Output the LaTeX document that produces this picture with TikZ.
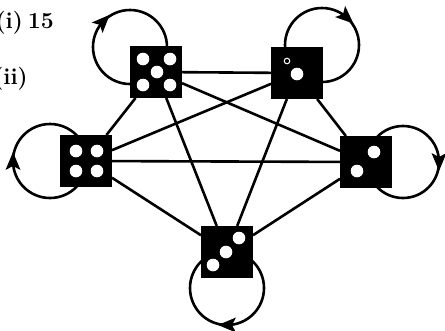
\documentclass[tikz,border=0pt]{standalone}
\usepackage{fontspec}
\usetikzlibrary{backgrounds,calc}
\begin{document}
\begin{tikzpicture}[x=1pt,y=-1pt,
  die/.style={draw=none,fill=black,minimum size=52pt,inner sep=0pt,outer sep=0pt},
  pip/.style={fill=white,draw=none},
  edgeline/.style={line width=2.6pt},
  loopline/.style={line width=2.6pt},
  lbl/.style={font=\fontsize{23}{27}\selectfont\bfseries,inner sep=0pt}]
\useasboundingbox (0,0) rectangle (445,330);
% dice
\node[die] (d5) at (156,72) {};
\node[die] (d1) at (297,73) {};
\node[die] (d4) at (86,161) {};
\node[die] (d2) at (366,162) {};
\node[die] (d3) at (227,252) {};
% pips
\foreach \p in {(143,59),(170,59),(157,72),(143,85),(170,85)} \fill[pip] \p circle (6.3);
\foreach \p in {(76,151),(97,151),(76,171),(97,171)} \fill[pip] \p circle (6.3);
\foreach \p in {(374,152),(357,171)} \fill[pip] \p circle (6.3);
\foreach \p in {(239,238),(226,252),(213,265)} \fill[pip] \p circle (6.3);
\fill[pip] (297,74) circle (6.3);
\draw[white,line width=1pt] (287,61) circle (2.8);
% labels
\node[lbl,anchor=base east] (t1) at (54,28) {(i)\hspace{5pt}15};
\node[lbl,anchor=base east] (t2) at (28,84) {(ii)};
\begin{scope}[on background layer]
% edges
\draw[edgeline] (d5) -- (d1);
\draw[edgeline] (d5) -- (d4);
\draw[edgeline] (d5) -- (d2);
\draw[edgeline] (d5) -- (d3);
\draw[edgeline] (d1) -- (d4);
\draw[edgeline] (d1) -- (d2);
\draw[edgeline] (d1) -- (d3);
\draw[edgeline] (d4) -- (d2);
\draw[edgeline] (d4) -- (d3);
\draw[edgeline] (d2) -- (d3);
% loops
\coordinate (c5) at (130,47);
\coordinate (c1) at (322,45);
\coordinate (c4) at (50,161);
\coordinate (c2) at (403,162);
\coordinate (c3) at (227,288);
\draw[loopline] (c5) circle (37);
\draw[loopline] (c1) circle (37);
\draw[loopline] (c4) circle (37);
\draw[loopline] (c2) circle (36);
\draw[loopline] (c3) circle (37);
\end{scope}
% arrowheads (clockwise)
\foreach \c/\a/\r in {c5/224/37, c1/312/37, c4/180/37, c2/0/36, c3/90/37}
  \fill[shift={($(\c)+(\a:\r)$)}, rotate=-\a-90]
    (9,0) -- (-9,-7.5) -- (-5,0) -- (-9,7.5) -- cycle;
\end{tikzpicture}
\end{document}
